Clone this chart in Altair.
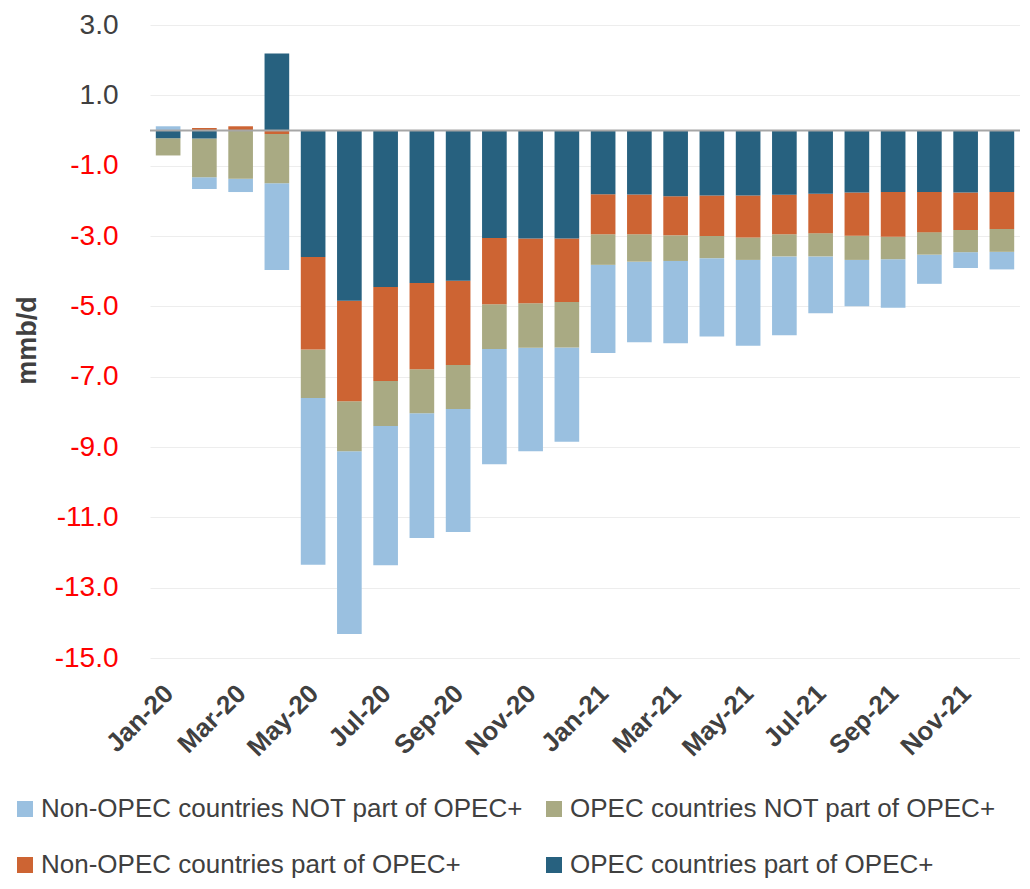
import altair as alt
import pandas as pd

months = ["Jan-20", "Feb-20", "Mar-20", "Apr-20", "May-20", "Jun-20", "Jul-20", "Aug-20",
          "Sep-20", "Oct-20", "Nov-20", "Dec-20", "Jan-21", "Feb-21", "Mar-21", "Apr-21",
          "May-21", "Jun-21", "Jul-21", "Aug-21", "Sep-21", "Oct-21", "Nov-21", "Dec-21"]

opec_part = [-0.22, -0.23, 0.0, 2.19, -3.60, -4.84, -4.45, -4.34, -4.27, -3.06, -3.07, -3.07,
             -1.81, -1.82, -1.87, -1.85, -1.85, -1.83, -1.80, -1.76, -1.75, -1.75, -1.76, -1.75]
nonopec_part = [0.0, 0.07, 0.12, -0.10, -2.63, -2.86, -2.67, -2.45, -2.40, -1.88, -1.84, -1.81,
                -1.14, -1.13, -1.11, -1.15, -1.19, -1.12, -1.12, -1.23, -1.27, -1.14, -1.07, -1.05]
opec_not = [-0.49, -1.10, -1.37, -1.40, -1.38, -1.42, -1.28, -1.25, -1.25, -1.27, -1.27, -1.29,
            -0.87, -0.78, -0.73, -0.63, -0.64, -0.63, -0.66, -0.69, -0.64, -0.64, -0.63, -0.65]
nonopec_not = [0.12, -0.33, -0.38, -2.47, -4.74, -5.20, -3.96, -3.55, -3.50, -3.28, -2.94, -2.68,
               -2.51, -2.29, -2.34, -2.23, -2.44, -2.24, -1.62, -1.32, -1.38, -0.83, -0.45, -0.50]

series_names = ["Non-OPEC countries NOT part of OPEC+", "OPEC countries NOT part of OPEC+",
                "Non-OPEC countries part of OPEC+", "OPEC countries part of OPEC+"]
series_colors = ["#9AC0E0", "#A9AA83", "#CD6433", "#27617F"]
stack_order = [3, 2, 1, 0]
series_values = [nonopec_not, opec_not, nonopec_part, opec_part]

x_labels = months[::2]
y_ticks = [-15, -13, -11, -9, -7, -5, -3, -1, 1, 3]

rows = []
for name, order, vals in zip(series_names, stack_order, series_values):
    for m, v in zip(months, vals):
        rows.append({"month": m, "series": name, "order": order, "value": v})
df = pd.DataFrame(rows)

FONT = "Liberation Sans"
TXT = "#404040"

x_enc = alt.X("month:N", sort=months,
              scale=alt.Scale(paddingInner=0.32, paddingOuter=0.16),
              axis=alt.Axis(title=None, values=x_labels, labelAngle=-45, labelFontSize=26,
                            labelFontWeight="bold", labelColor=TXT, labelFont=FONT,
                            ticks=False, tickSize=0, domain=False, grid=False,
                            labelPadding=22, labelOffset=-8))

bars = alt.Chart(df).mark_bar().encode(
    x=x_enc,
    y=alt.Y("value:Q", stack="zero",
            scale=alt.Scale(domain=[-15, 3], nice=False, zero=False),
            axis=alt.Axis(title="mmb/d", values=y_ticks,
                          labelExpr="(datum.value < 0 ? '-' : '') + format(abs(datum.value), '.1f')",
                          labelFontSize=28, labelFont=FONT,
                          labelColor=alt.expr("datum.value < 0 ? '#FF0000' : '#404040'"),
                          labelPadding=32, ticks=False, domain=False, grid=True,
                          gridColor="#EDEDED", gridWidth=1,
                          titleFontSize=27, titleFontWeight="bold", titleColor=TXT, titleFont=FONT,
                          titleAngle=-90, titleX=-123, titleY=315, titleAlign="center",
                          titleBaseline="middle")),
    color=alt.Color("series:N", scale=alt.Scale(domain=series_names, range=series_colors),
                    legend=alt.Legend(title=None, orient="none", legendX=-138, legendY=771,
                                      direction="horizontal", columns=2, columnPadding=18,
                                      rowPadding=30,
                                      symbolType="square", symbolSize=256, symbolStrokeWidth=0,
                                      labelFontSize=26, labelFont=FONT, labelColor=TXT,
                                      labelOffset=3, labelLimit=700)),
    order=alt.Order("order:Q", sort="ascending"),
)

zero_line = alt.Chart(pd.DataFrame({"y": [0]})).mark_rule(color="#A6A6A6", strokeWidth=2).encode(
    y=alt.Y("y:Q")
)

chart = alt.layer(bars, zero_line).properties(
    width=870, height=633,
    autosize=alt.AutoSizeParams(type="none"),
    padding={"left": 142, "top": 17, "right": 0, "bottom": 231},
).configure_view(stroke=None)

chart.save("out.html", embed_options={"renderer": "svg", "actions": False})
